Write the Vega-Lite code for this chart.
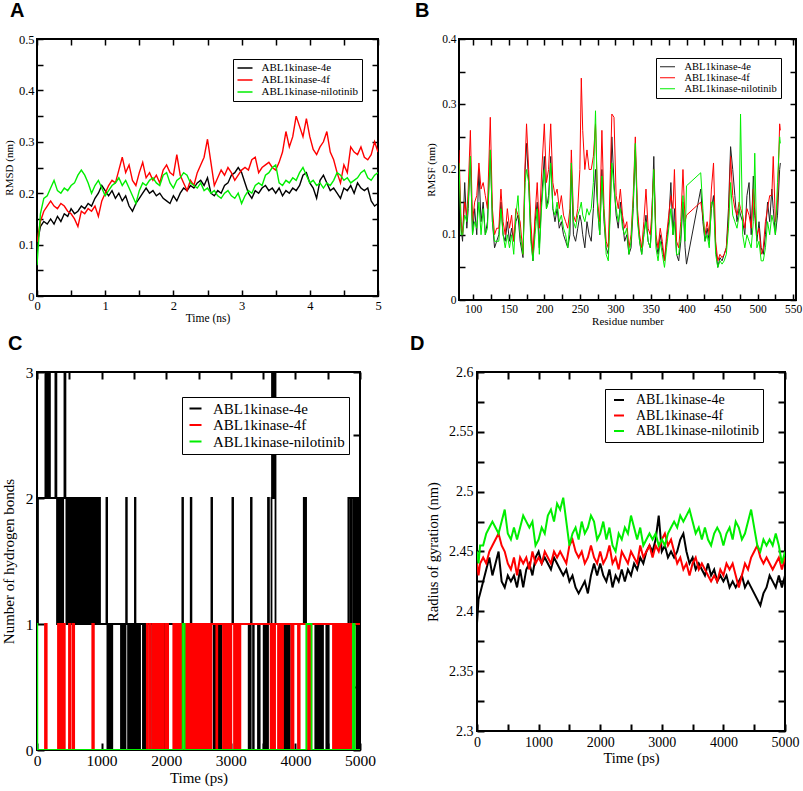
{
"$schema":"https://vega.github.io/schema/vega-lite/v6.json",
"background":"white",
"padding":{"left":0,"top":0,"right":0,"bottom":0},
"config":{
"view":{"stroke":"black","strokeWidth":2},
"axis":{"domain":false,"grid":false,"labelFont":"Liberation Serif","titleFont":"Liberation Serif","titleFontWeight":"normal","labelColor":"black","titleColor":"black","tickColor":"black","tickWidth":1.5,"labelOverlap":false,"labelFlush":false},
"legend":{"labelFont":"Liberation Serif","labelColor":"black","strokeColor":"black","fillColor":"white","orient":"none","symbolType":"stroke"},
"title":{"font":"Liberation Sans","fontWeight":"bold","color":"black","anchor":"start","frame":"group"}
},
"datasets":{
"A":[
{"t":0,"e":0.100,"f":0.105,"n":0.060},{"t":0.05,"e":0.135,"f":0.145,"n":0.160},{"t":0.1,"e":0.145,"f":0.165,"n":0.190},{"t":0.15,"e":0.140,"f":0.175,"n":0.195},{"t":0.2,"e":0.150,"f":0.185,"n":0.210},{"t":0.25,"e":0.140,"f":0.175,"n":0.225},{"t":0.3,"e":0.155,"f":0.170,"n":0.205},{"t":0.35,"e":0.145,"f":0.180,"n":0.200},{"t":0.4,"e":0.160,"f":0.175,"n":0.210},{"t":0.45,"e":0.155,"f":0.165,"n":0.205},
{"t":0.5,"e":0.170,"f":0.160,"n":0.215},{"t":0.55,"e":0.160,"f":0.150,"n":0.220},{"t":0.6,"e":0.165,"f":0.135,"n":0.235},{"t":0.65,"e":0.175,"f":0.165,"n":0.245},{"t":0.7,"e":0.170,"f":0.160,"n":0.235},{"t":0.75,"e":0.180,"f":0.170,"n":0.220},{"t":0.8,"e":0.175,"f":0.165,"n":0.200},{"t":0.85,"e":0.190,"f":0.175,"n":0.215},{"t":0.9,"e":0.200,"f":0.155,"n":0.225},{"t":0.95,"e":0.215,"f":0.185,"n":0.210},
{"t":1.0,"e":0.205,"f":0.200,"n":0.195},{"t":1.05,"e":0.195,"f":0.215,"n":0.205},{"t":1.1,"e":0.205,"f":0.225,"n":0.215},{"t":1.15,"e":0.190,"f":0.220,"n":0.220},{"t":1.2,"e":0.200,"f":0.245,"n":0.230},{"t":1.25,"e":0.185,"f":0.270,"n":0.215},{"t":1.3,"e":0.195,"f":0.240,"n":0.225},{"t":1.35,"e":0.175,"f":0.255,"n":0.210},{"t":1.4,"e":0.165,"f":0.225,"n":0.195},{"t":1.45,"e":0.180,"f":0.215,"n":0.180},
{"t":1.5,"e":0.190,"f":0.240,"n":0.205},{"t":1.55,"e":0.200,"f":0.260,"n":0.220},{"t":1.6,"e":0.210,"f":0.230,"n":0.215},{"t":1.65,"e":0.200,"f":0.240,"n":0.225},{"t":1.7,"e":0.205,"f":0.225,"n":0.230},{"t":1.75,"e":0.195,"f":0.235,"n":0.220},{"t":1.8,"e":0.200,"f":0.220,"n":0.215},{"t":1.85,"e":0.190,"f":0.245,"n":0.235},{"t":1.9,"e":0.185,"f":0.255,"n":0.240},{"t":1.95,"e":0.180,"f":0.240,"n":0.220},
{"t":2.0,"e":0.195,"f":0.235,"n":0.210},{"t":2.05,"e":0.185,"f":0.275,"n":0.225},{"t":2.1,"e":0.200,"f":0.235,"n":0.230},{"t":2.15,"e":0.210,"f":0.220,"n":0.240},{"t":2.2,"e":0.205,"f":0.205,"n":0.235},{"t":2.25,"e":0.215,"f":0.225,"n":0.220},{"t":2.3,"e":0.210,"f":0.215,"n":0.215},{"t":2.35,"e":0.220,"f":0.240,"n":0.210},{"t":2.4,"e":0.225,"f":0.255,"n":0.220},{"t":2.45,"e":0.215,"f":0.270,"n":0.205},
{"t":2.5,"e":0.230,"f":0.305,"n":0.210},{"t":2.55,"e":0.200,"f":0.260,"n":0.200},{"t":2.6,"e":0.195,"f":0.215,"n":0.205},{"t":2.65,"e":0.205,"f":0.230,"n":0.195},{"t":2.7,"e":0.200,"f":0.245,"n":0.190},{"t":2.75,"e":0.215,"f":0.235,"n":0.200},{"t":2.8,"e":0.220,"f":0.250,"n":0.205},{"t":2.85,"e":0.235,"f":0.240,"n":0.195},{"t":2.9,"e":0.240,"f":0.225,"n":0.190},{"t":2.95,"e":0.250,"f":0.235,"n":0.200},
{"t":3.0,"e":0.240,"f":0.245,"n":0.180},{"t":3.05,"e":0.220,"f":0.250,"n":0.195},{"t":3.1,"e":0.200,"f":0.245,"n":0.205},{"t":3.15,"e":0.190,"f":0.265,"n":0.200},{"t":3.2,"e":0.205,"f":0.270,"n":0.215},{"t":3.25,"e":0.200,"f":0.240,"n":0.220},{"t":3.3,"e":0.210,"f":0.250,"n":0.215},{"t":3.35,"e":0.215,"f":0.255,"n":0.235},{"t":3.4,"e":0.205,"f":0.260,"n":0.240},{"t":3.45,"e":0.210,"f":0.250,"n":0.250},
{"t":3.5,"e":0.200,"f":0.245,"n":0.255},{"t":3.55,"e":0.210,"f":0.260,"n":0.220},{"t":3.6,"e":0.195,"f":0.280,"n":0.215},{"t":3.65,"e":0.205,"f":0.320,"n":0.225},{"t":3.7,"e":0.200,"f":0.290,"n":0.220},{"t":3.75,"e":0.210,"f":0.310,"n":0.230},{"t":3.8,"e":0.205,"f":0.350,"n":0.225},{"t":3.85,"e":0.215,"f":0.330,"n":0.240},{"t":3.9,"e":0.235,"f":0.310,"n":0.250},{"t":3.95,"e":0.240,"f":0.345,"n":0.235},
{"t":4.0,"e":0.220,"f":0.310,"n":0.220},{"t":4.05,"e":0.210,"f":0.285,"n":0.225},{"t":4.1,"e":0.190,"f":0.275,"n":0.215},{"t":4.15,"e":0.225,"f":0.290,"n":0.220},{"t":4.2,"e":0.235,"f":0.300,"n":0.210},{"t":4.25,"e":0.220,"f":0.320,"n":0.220},{"t":4.3,"e":0.205,"f":0.280,"n":0.215},{"t":4.35,"e":0.210,"f":0.265,"n":0.225},{"t":4.4,"e":0.200,"f":0.240,"n":0.240},{"t":4.45,"e":0.190,"f":0.220,"n":0.235},
{"t":4.5,"e":0.210,"f":0.255,"n":0.225},{"t":4.55,"e":0.205,"f":0.240,"n":0.230},{"t":4.6,"e":0.215,"f":0.290,"n":0.220},{"t":4.65,"e":0.200,"f":0.280,"n":0.225},{"t":4.7,"e":0.220,"f":0.275,"n":0.230},{"t":4.75,"e":0.210,"f":0.290,"n":0.240},{"t":4.8,"e":0.205,"f":0.270,"n":0.245},{"t":4.85,"e":0.210,"f":0.265,"n":0.230},{"t":4.9,"e":0.185,"f":0.275,"n":0.225},{"t":4.95,"e":0.175,"f":0.300,"n":0.235},
{"t":5.0,"e":0.180,"f":0.280,"n":0.240}
],
"B":[
{"r":80,"e":0.19,"f":0.23,"n":0.21},{"r":83,"e":0.11,"f":0.12,"n":0.10},{"r":85,"e":0.09,"f":0.10,"n":0.10},{"r":88,"e":0.18,"f":0.15,"n":0.13},{"r":91,"e":0.11,"f":0.13,"n":0.12},{"r":93,"e":0.14,"f":0.17,"n":0.15},{"r":96,"e":0.22,"f":0.26,"n":0.22},{"r":99,"e":0.10,"f":0.12,"n":0.10},{"r":102,"e":0.14,"f":0.15,"n":0.12},{"r":105,"e":0.10,"f":0.16,"n":0.11},
{"r":108,"e":0.20,"f":0.21,"n":0.15},{"r":111,"e":0.12,"f":0.17,"n":0.10},{"r":114,"e":0.15,"f":0.18,"n":0.14},{"r":117,"e":0.10,"f":0.16,"n":0.10},{"r":120,"e":0.12,"f":0.14,"n":0.11},{"r":124,"e":0.23,"f":0.28,"n":0.23},{"r":127,"e":0.12,"f":0.14,"n":0.12},{"r":130,"e":0.08,"f":0.10,"n":0.09},{"r":133,"e":0.09,"f":0.11,"n":0.09},{"r":136,"e":0.10,"f":0.11,"n":0.09},
{"r":139,"e":0.15,"f":0.17,"n":0.14},{"r":142,"e":0.10,"f":0.12,"n":0.10},{"r":145,"e":0.09,"f":0.10,"n":0.08},{"r":148,"e":0.12,"f":0.14,"n":0.10},{"r":151,"e":0.09,"f":0.11,"n":0.08},{"r":154,"e":0.11,"f":0.13,"n":0.10},{"r":157,"e":0.09,"f":0.09,"n":0.07},{"r":160,"e":0.12,"f":0.14,"n":0.13},{"r":163,"e":0.13,"f":0.13,"n":0.16},{"r":166,"e":0.09,"f":0.12,"n":0.10},
{"r":170,"e":0.065,"f":0.07,"n":0.07},{"r":173,"e":0.20,"f":0.21,"n":0.18},{"r":175,"e":0.24,"f":0.27,"n":0.20},{"r":178,"e":0.18,"f":0.20,"n":0.18},{"r":181,"e":0.10,"f":0.12,"n":0.09},{"r":184,"e":0.06,"f":0.07,"n":0.06},{"r":187,"e":0.12,"f":0.13,"n":0.10},{"r":190,"e":0.15,"f":0.18,"n":0.14},{"r":193,"e":0.08,"f":0.11,"n":0.07},{"r":196,"e":0.15,"f":0.19,"n":0.14},
{"r":200,"e":0.22,"f":0.27,"n":0.20},{"r":203,"e":0.14,"f":0.18,"n":0.14},{"r":206,"e":0.16,"f":0.20,"n":0.15},{"r":209,"e":0.22,"f":0.27,"n":0.21},{"r":212,"e":0.14,"f":0.18,"n":0.14},{"r":215,"e":0.12,"f":0.16,"n":0.13},{"r":218,"e":0.14,"f":0.17,"n":0.15},{"r":221,"e":0.11,"f":0.14,"n":0.12},{"r":224,"e":0.12,"f":0.16,"n":0.13},{"r":227,"e":0.10,"f":0.13,"n":0.11},
{"r":230,"e":0.09,"f":0.12,"n":0.10},{"r":233,"e":0.08,"f":0.11,"n":0.08},{"r":236,"e":0.10,"f":0.14,"n":0.12},{"r":238,"e":0.20,"f":0.23,"n":0.21},{"r":241,"e":0.10,"f":0.13,"n":0.12},{"r":244,"e":0.09,"f":0.12,"n":0.11},{"r":247,"e":0.11,"f":0.14,"n":0.13},{"r":250,"e":0.13,"f":0.20,"n":0.14},{"r":252,"e":0.12,"f":0.34,"n":0.15},{"r":254,"e":0.10,"f":0.26,"n":0.13},
{"r":257,"e":0.08,"f":0.20,"n":0.12},{"r":260,"e":0.12,"f":0.23,"n":0.14},{"r":263,"e":0.10,"f":0.20,"n":0.13},{"r":266,"e":0.09,"f":0.20,"n":0.14},{"r":269,"e":0.14,"f":0.22,"n":0.18},{"r":272,"e":0.20,"f":0.27,"n":0.29},{"r":275,"e":0.14,"f":0.15,"n":0.14},{"r":278,"e":0.10,"f":0.12,"n":0.10},{"r":281,"e":0.20,"f":0.26,"n":0.19},{"r":284,"e":0.12,"f":0.14,"n":0.13},
{"r":287,"e":0.08,"f":0.09,"n":0.07},{"r":290,"e":0.07,"f":0.08,"n":0.06},{"r":293,"e":0.15,"f":0.20,"n":0.14},{"r":295,"e":0.25,"f":0.285,"n":0.21},{"r":298,"e":0.18,"f":0.28,"n":0.17},{"r":301,"e":0.13,"f":0.16,"n":0.14},{"r":304,"e":0.11,"f":0.14,"n":0.12},{"r":307,"e":0.15,"f":0.17,"n":0.14},{"r":310,"e":0.12,"f":0.13,"n":0.11},{"r":313,"e":0.09,"f":0.11,"n":0.10},
{"r":316,"e":0.10,"f":0.12,"n":0.11},{"r":319,"e":0.07,"f":0.08,"n":0.07},{"r":322,"e":0.08,"f":0.10,"n":0.09},{"r":325,"e":0.14,"f":0.16,"n":0.15},{"r":328,"e":0.23,"f":0.25,"n":0.24},{"r":331,"e":0.13,"f":0.14,"n":0.12},{"r":334,"e":0.09,"f":0.10,"n":0.09},{"r":337,"e":0.07,"f":0.08,"n":0.07},{"r":340,"e":0.10,"f":0.12,"n":0.10},{"r":343,"e":0.13,"f":0.17,"n":0.12},
{"r":346,"e":0.09,"f":0.11,"n":0.09},{"r":349,"e":0.08,"f":0.10,"n":0.08},{"r":351,"e":0.12,"f":0.13,"n":0.11},{"r":354,"e":0.22,"f":0.20,"n":0.20},{"r":357,"e":0.09,"f":0.10,"n":0.08},{"r":360,"e":0.07,"f":0.08,"n":0.06},{"r":363,"e":0.10,"f":0.11,"n":0.09},{"r":366,"e":0.08,"f":0.09,"n":0.07},{"r":369,"e":0.06,"f":0.06,"n":0.05},{"r":372,"e":0.09,"f":0.10,"n":0.08},
{"r":375,"e":0.12,"f":0.13,"n":0.11},{"r":378,"e":0.18,"f":0.16,"n":0.14},{"r":381,"e":0.10,"f":0.14,"n":0.10},{"r":383,"e":0.14,"f":0.20,"n":0.12},{"r":386,"e":0.07,"f":0.09,"n":0.07},{"r":389,"e":0.06,"f":0.08,"n":0.07},{"r":392,"e":0.09,"f":0.12,"n":0.10},{"r":395,"e":0.15,"f":0.20,"n":0.16},{"r":398,"e":0.08,"f":0.12,"n":0.09},{"r":400,"e":0.055,"f":0.13,"n":0.175},
{"r":420,"e":0.17,"f":0.15,"n":0.195},{"r":423,"e":0.12,"f":0.13,"n":0.14},{"r":426,"e":0.09,"f":0.10,"n":0.09},{"r":429,"e":0.11,"f":0.12,"n":0.10},{"r":432,"e":0.09,"f":0.10,"n":0.08},{"r":435,"e":0.14,"f":0.17,"n":0.15},{"r":438,"e":0.16,"f":0.21,"n":0.15},{"r":441,"e":0.08,"f":0.09,"n":0.07},{"r":444,"e":0.05,"f":0.06,"n":0.05},{"r":447,"e":0.065,"f":0.07,"n":0.06},
{"r":450,"e":0.06,"f":0.065,"n":0.055},{"r":453,"e":0.07,"f":0.07,"n":0.06},{"r":456,"e":0.08,"f":0.08,"n":0.07},{"r":459,"e":0.14,"f":0.12,"n":0.11},{"r":462,"e":0.235,"f":0.22,"n":0.18},{"r":465,"e":0.20,"f":0.16,"n":0.13},{"r":468,"e":0.16,"f":0.14,"n":0.12},{"r":471,"e":0.12,"f":0.13,"n":0.11},{"r":474,"e":0.14,"f":0.15,"n":0.13},{"r":476,"e":0.13,"f":0.14,"n":0.285},
{"r":479,"e":0.12,"f":0.13,"n":0.10},{"r":482,"e":0.10,"f":0.11,"n":0.08},{"r":485,"e":0.16,"f":0.14,"n":0.10},{"r":488,"e":0.18,"f":0.13,"n":0.09},{"r":491,"e":0.10,"f":0.11,"n":0.08},{"r":494,"e":0.19,"f":0.17,"n":0.12},{"r":496,"e":0.13,"f":0.14,"n":0.225},{"r":499,"e":0.09,"f":0.10,"n":0.08},{"r":502,"e":0.12,"f":0.11,"n":0.09},{"r":505,"e":0.08,"f":0.07,"n":0.06},
{"r":508,"e":0.07,"f":0.08,"n":0.06},{"r":511,"e":0.10,"f":0.12,"n":0.08},{"r":514,"e":0.15,"f":0.14,"n":0.12},{"r":517,"e":0.12,"f":0.16,"n":0.10},{"r":520,"e":0.17,"f":0.16,"n":0.13},{"r":522,"e":0.14,"f":0.22,"n":0.12},{"r":525,"e":0.10,"f":0.12,"n":0.10},{"r":528,"e":0.13,"f":0.15,"n":0.18},{"r":531,"e":0.20,"f":0.27,"n":0.25},{"r":532,"e":0.21,"f":0.26,"n":0.24}
],
"C":[
{"s":"e","t":0,"v":1},{"s":"e","t":15,"v":2},{"s":"e","t":130,"v":3},{"s":"e","t":145,"v":2},{"s":"e","t":150,"v":3},{"s":"e","t":165,"v":2},{"s":"e","t":190,"v":3},{"s":"e","t":200,"v":2},{"s":"e","t":285,"v":3},{"s":"e","t":300,"v":2},{"s":"e","t":310,"v":1},{"s":"e","t":320,"v":2},{"s":"e","t":335,"v":1},{"s":"e","t":345,"v":2},{"s":"e","t":360,"v":1},{"s":"e","t":375,"v":2},{"s":"e","t":395,"v":1},{"s":"e","t":405,"v":2},{"s":"e","t":425,"v":3},{"s":"e","t":440,"v":2},{"s":"e","t":455,"v":1},{"s":"e","t":470,"v":2},{"s":"e","t":485,"v":1},{"s":"e","t":500,"v":2},{"s":"e","t":515,"v":1},{"s":"e","t":530,"v":2},{"s":"e","t":545,"v":1},{"s":"e","t":560,"v":2},{"s":"e","t":575,"v":1},{"s":"e","t":590,"v":2},{"s":"e","t":605,"v":1},{"s":"e","t":615,"v":2},{"s":"e","t":630,"v":1},{"s":"e","t":640,"v":2},{"s":"e","t":655,"v":1},{"s":"e","t":665,"v":2},{"s":"e","t":685,"v":1},{"s":"e","t":700,"v":2},{"s":"e","t":715,"v":1},{"s":"e","t":725,"v":2},{"s":"e","t":740,"v":1},{"s":"e","t":755,"v":2},{"s":"e","t":765,"v":1},{"s":"e","t":780,"v":2},{"s":"e","t":790,"v":1},{"s":"e","t":805,"v":2},{"s":"e","t":820,"v":1},{"s":"e","t":840,"v":2},{"s":"e","t":850,"v":1},{"s":"e","t":865,"v":2},{"s":"e","t":880,"v":1},{"s":"e","t":900,"v":2},{"s":"e","t":915,"v":1},{"s":"e","t":925,"v":2},{"s":"e","t":940,"v":1},{"s":"e","t":960,"v":2},{"s":"e","t":975,"v":1},{"s":"e","t":1075,"v":2},{"s":"e","t":1085,"v":1},{"s":"e","t":1090,"v":0},{"s":"e","t":1100,"v":1},{"s":"e","t":1115,"v":0},{"s":"e","t":1125,"v":1},{"s":"e","t":1140,"v":0},{"s":"e","t":1150,"v":1},{"s":"e","t":1158,"v":0},{"s":"e","t":1165,"v":1},{"s":"e","t":1300,"v":0},{"s":"e","t":1310,"v":1},{"s":"e","t":1325,"v":0},{"s":"e","t":1335,"v":1},{"s":"e","t":1350,"v":0},{"s":"e","t":1360,"v":1},{"s":"e","t":1365,"v":0},{"s":"e","t":1370,"v":1},{"s":"e","t":1380,"v":2},{"s":"e","t":1390,"v":1},{"s":"e","t":1410,"v":0},{"s":"e","t":1420,"v":1},{"s":"e","t":1428,"v":0},{"s":"e","t":1436,"v":1},{"s":"e","t":1444,"v":0},{"s":"e","t":1452,"v":1},{"s":"e","t":1460,"v":0},{"s":"e","t":1468,"v":1},{"s":"e","t":1476,"v":0},{"s":"e","t":1484,"v":1},{"s":"e","t":1492,"v":0},{"s":"e","t":1500,"v":1},{"s":"e","t":1508,"v":0},{"s":"e","t":1516,"v":2},{"s":"e","t":1524,"v":0},{"s":"e","t":1532,"v":1},{"s":"e","t":1540,"v":0},{"s":"e","t":1548,"v":1},{"s":"e","t":1556,"v":0},{"s":"e","t":1564,"v":1},{"s":"e","t":1572,"v":0},{"s":"e","t":1580,"v":1},{"s":"e","t":1588,"v":0},{"s":"e","t":1595,"v":1},{"s":"e","t":1640,"v":0},{"s":"e","t":1650,"v":1},{"s":"e","t":1670,"v":0},{"s":"e","t":1680,"v":1},{"s":"e","t":1700,"v":0},{"s":"e","t":1710,"v":1},{"s":"e","t":1750,"v":0},{"s":"e","t":1760,"v":1},{"s":"e","t":1840,"v":0},{"s":"e","t":1850,"v":1},{"s":"e","t":1885,"v":0},{"s":"e","t":1895,"v":1},{"s":"e","t":1960,"v":0},{"s":"e","t":1970,"v":1},{"s":"e","t":2005,"v":0},{"s":"e","t":2015,"v":1},{"s":"e","t":2197,"v":0},{"s":"e","t":2207,"v":1},{"s":"e","t":2225,"v":0},{"s":"e","t":2235,"v":1},{"s":"e","t":2250,"v":2},{"s":"e","t":2260,"v":1},{"s":"e","t":2380,"v":2},{"s":"e","t":2390,"v":1},{"s":"e","t":2700,"v":2},{"s":"e","t":2710,"v":1},{"s":"e","t":2735,"v":0},{"s":"e","t":2745,"v":1},{"s":"e","t":2752,"v":0},{"s":"e","t":2761,"v":1},{"s":"e","t":2812,"v":0},{"s":"e","t":2822,"v":1},{"s":"e","t":2832,"v":0},{"s":"e","t":2842,"v":1},{"s":"e","t":2848,"v":0},{"s":"e","t":2853,"v":1},{"s":"e","t":3025,"v":2},{"s":"e","t":3035,"v":1},{"s":"e","t":3277,"v":0},{"s":"e","t":3287,"v":1},{"s":"e","t":3298,"v":0},{"s":"e","t":3308,"v":1},{"s":"e","t":3312,"v":2},{"s":"e","t":3322,"v":1},{"s":"e","t":3345,"v":0},{"s":"e","t":3355,"v":1},{"s":"e","t":3421,"v":0},{"s":"e","t":3431,"v":1},{"s":"e","t":3440,"v":0},{"s":"e","t":3447,"v":1},{"s":"e","t":3509,"v":0},{"s":"e","t":3517,"v":1},{"s":"e","t":3525,"v":0},{"s":"e","t":3533,"v":1},{"s":"e","t":3541,"v":0},{"s":"e","t":3549,"v":1},{"s":"e","t":3557,"v":0},{"s":"e","t":3565,"v":1},{"s":"e","t":3572,"v":0},{"s":"e","t":3576,"v":2},{"s":"e","t":3590,"v":1},{"s":"e","t":3630,"v":2},{"s":"e","t":3638,"v":3},{"s":"e","t":3645,"v":2},{"s":"e","t":3652,"v":3},{"s":"e","t":3660,"v":2},{"s":"e","t":3668,"v":3},{"s":"e","t":3676,"v":2},{"s":"e","t":3684,"v":3},{"s":"e","t":3692,"v":1},{"s":"e","t":3824,"v":0},{"s":"e","t":3834,"v":1},{"s":"e","t":3844,"v":0},{"s":"e","t":3852,"v":1},{"s":"e","t":3860,"v":0},{"s":"e","t":3870,"v":1},{"s":"e","t":3880,"v":0},{"s":"e","t":3890,"v":1},{"s":"e","t":3900,"v":0},{"s":"e","t":3912,"v":1},{"s":"e","t":4130,"v":2},{"s":"e","t":4140,"v":1},{"s":"e","t":4150,"v":2},{"s":"e","t":4165,"v":1},{"s":"e","t":4308,"v":0},{"s":"e","t":4318,"v":1},{"s":"e","t":4330,"v":0},{"s":"e","t":4340,"v":1},{"s":"e","t":4350,"v":0},{"s":"e","t":4355,"v":1},{"s":"e","t":4376,"v":0},{"s":"e","t":4386,"v":1},{"s":"e","t":4396,"v":0},{"s":"e","t":4406,"v":1},{"s":"e","t":4416,"v":0},{"s":"e","t":4427,"v":1},{"s":"e","t":4479,"v":0},{"s":"e","t":4489,"v":1},{"s":"e","t":4500,"v":0},{"s":"e","t":4515,"v":1},{"s":"e","t":4737,"v":0},{"s":"e","t":4747,"v":1},{"s":"e","t":4757,"v":0},{"s":"e","t":4767,"v":1},{"s":"e","t":4777,"v":0},{"s":"e","t":4788,"v":1},{"s":"e","t":4820,"v":2},{"s":"e","t":4850,"v":1},{"s":"e","t":4870,"v":2},{"s":"e","t":4900,"v":1},{"s":"e","t":4920,"v":2},{"s":"e","t":4945,"v":0},{"s":"e","t":4955,"v":2},{"s":"e","t":4970,"v":0},{"s":"e","t":4980,"v":2},{"s":"e","t":4990,"v":0},{"s":"e","t":5000,"v":2},
{"s":"f","t":0,"v":0},{"s":"f","t":124,"v":1},{"s":"f","t":132,"v":0},{"s":"f","t":140,"v":1},{"s":"f","t":150,"v":0},{"s":"f","t":325,"v":1},{"s":"f","t":335,"v":0},{"s":"f","t":345,"v":1},{"s":"f","t":355,"v":0},{"s":"f","t":365,"v":1},{"s":"f","t":375,"v":0},{"s":"f","t":385,"v":1},{"s":"f","t":395,"v":0},{"s":"f","t":405,"v":1},{"s":"f","t":415,"v":0},{"s":"f","t":422,"v":1},{"s":"f","t":430,"v":0},{"s":"f","t":495,"v":1},{"s":"f","t":512,"v":0},{"s":"f","t":547,"v":1},{"s":"f","t":557,"v":0},{"s":"f","t":565,"v":1},{"s":"f","t":575,"v":0},{"s":"f","t":856,"v":1},{"s":"f","t":880,"v":0},{"s":"f","t":1700,"v":1},{"s":"f","t":1710,"v":0},{"s":"f","t":1740,"v":1},{"s":"f","t":1755,"v":0},{"s":"f","t":1786,"v":1},{"s":"f","t":1796,"v":0},{"s":"f","t":1806,"v":1},{"s":"f","t":1822,"v":0},{"s":"f","t":1845,"v":1},{"s":"f","t":1855,"v":0},{"s":"f","t":1880,"v":1},{"s":"f","t":1900,"v":0},{"s":"f","t":1925,"v":1},{"s":"f","t":1935,"v":0},{"s":"f","t":1945,"v":1},{"s":"f","t":1955,"v":0},{"s":"f","t":1985,"v":1},{"s":"f","t":1995,"v":0},{"s":"f","t":2015,"v":1},{"s":"f","t":2030,"v":0},{"s":"f","t":2110,"v":1},{"s":"f","t":2120,"v":0},{"s":"f","t":2130,"v":1},{"s":"f","t":2140,"v":0},{"s":"f","t":2150,"v":1},{"s":"f","t":2160,"v":0},{"s":"f","t":2170,"v":1},{"s":"f","t":2183,"v":0},{"s":"f","t":2205,"v":1},{"s":"f","t":2215,"v":0},{"s":"f","t":2235,"v":1},{"s":"f","t":2245,"v":0},{"s":"f","t":2285,"v":1},{"s":"f","t":2295,"v":0},{"s":"f","t":2305,"v":1},{"s":"f","t":2315,"v":0},{"s":"f","t":2325,"v":1},{"s":"f","t":2335,"v":0},{"s":"f","t":2345,"v":1},{"s":"f","t":2355,"v":0},{"s":"f","t":2365,"v":1},{"s":"f","t":2375,"v":0},{"s":"f","t":2385,"v":1},{"s":"f","t":2395,"v":0},{"s":"f","t":2405,"v":1},{"s":"f","t":2415,"v":0},{"s":"f","t":2430,"v":1},{"s":"f","t":2440,"v":0},{"s":"f","t":2456,"v":1},{"s":"f","t":2466,"v":0},{"s":"f","t":2476,"v":1},{"s":"f","t":2486,"v":0},{"s":"f","t":2496,"v":1},{"s":"f","t":2506,"v":0},{"s":"f","t":2516,"v":1},{"s":"f","t":2526,"v":0},{"s":"f","t":2536,"v":1},{"s":"f","t":2546,"v":0},{"s":"f","t":2554,"v":1},{"s":"f","t":2570,"v":0},{"s":"f","t":2580,"v":1},{"s":"f","t":2590,"v":0},{"s":"f","t":2600,"v":1},{"s":"f","t":2610,"v":0},{"s":"f","t":2620,"v":1},{"s":"f","t":2630,"v":0},{"s":"f","t":2640,"v":1},{"s":"f","t":2650,"v":0},{"s":"f","t":2660,"v":1},{"s":"f","t":2673,"v":0},{"s":"f","t":2680,"v":1},{"s":"f","t":2690,"v":0},{"s":"f","t":2700,"v":1},{"s":"f","t":2776,"v":0},{"s":"f","t":2790,"v":1},{"s":"f","t":2879,"v":0},{"s":"f","t":2890,"v":1},{"s":"f","t":2900,"v":0},{"s":"f","t":2910,"v":1},{"s":"f","t":2920,"v":0},{"s":"f","t":2930,"v":1},{"s":"f","t":2940,"v":0},{"s":"f","t":2950,"v":1},{"s":"f","t":2960,"v":0},{"s":"f","t":2970,"v":1},{"s":"f","t":2980,"v":0},{"s":"f","t":2990,"v":1},{"s":"f","t":3000,"v":0},{"s":"f","t":3008,"v":1},{"s":"f","t":3050,"v":0},{"s":"f","t":3065,"v":1},{"s":"f","t":3075,"v":0},{"s":"f","t":3086,"v":1},{"s":"f","t":3112,"v":0},{"s":"f","t":3125,"v":1},{"s":"f","t":3135,"v":0},{"s":"f","t":3148,"v":1},{"s":"f","t":3617,"v":0},{"s":"f","t":3630,"v":1},{"s":"f","t":3640,"v":0},{"s":"f","t":3653,"v":1},{"s":"f","t":3679,"v":0},{"s":"f","t":3685,"v":1},{"s":"f","t":3731,"v":0},{"s":"f","t":3740,"v":1},{"s":"f","t":3750,"v":0},{"s":"f","t":3760,"v":1},{"s":"f","t":3770,"v":0},{"s":"f","t":3780,"v":1},{"s":"f","t":3790,"v":0},{"s":"f","t":3808,"v":1},{"s":"f","t":3937,"v":0},{"s":"f","t":3950,"v":1},{"s":"f","t":3963,"v":0},{"s":"f","t":3970,"v":1},{"s":"f","t":4040,"v":0},{"s":"f","t":4050,"v":1},{"s":"f","t":4060,"v":0},{"s":"f","t":4066,"v":1},{"s":"f","t":4195,"v":0},{"s":"f","t":4205,"v":1},{"s":"f","t":4215,"v":0},{"s":"f","t":4225,"v":1},{"s":"f","t":4235,"v":0},{"s":"f","t":4246,"v":1},{"s":"f","t":4582,"v":0},{"s":"f","t":4592,"v":1},{"s":"f","t":4602,"v":0},{"s":"f","t":4612,"v":1},{"s":"f","t":4622,"v":0},{"s":"f","t":4632,"v":1},{"s":"f","t":4642,"v":0},{"s":"f","t":4652,"v":1},{"s":"f","t":4662,"v":0},{"s":"f","t":4672,"v":1},{"s":"f","t":4682,"v":0},{"s":"f","t":4692,"v":1},{"s":"f","t":4702,"v":0},{"s":"f","t":4711,"v":1},{"s":"f","t":4737,"v":0},{"s":"f","t":4747,"v":1},{"s":"f","t":4757,"v":0},{"s":"f","t":4767,"v":1},{"s":"f","t":4777,"v":0},{"s":"f","t":4788,"v":1},{"s":"f","t":4798,"v":0},{"s":"f","t":4808,"v":1},{"s":"f","t":4818,"v":0},{"s":"f","t":4828,"v":1},{"s":"f","t":4838,"v":0},{"s":"f","t":4848,"v":1},{"s":"f","t":4858,"v":0},{"s":"f","t":4866,"v":1},{"s":"f","t":5000,"v":1},
{"s":"n","t":0,"v":1},{"s":"n","t":5,"v":0},{"s":"n","t":2255,"v":1},{"s":"n","t":2285,"v":0},{"s":"n","t":4169,"v":1},{"s":"n","t":4250,"v":0},{"s":"n","t":4891,"v":1},{"s":"n","t":4917,"v":0},{"s":"n","t":5000,"v":0}
],
"D":[
{"t":0,"e":2.39,"f":2.44,"n":2.45},{"t":25,"e":2.41,"f":2.43,"n":2.44},{"t":50,"e":2.415,"f":2.44,"n":2.455},{"t":100,"e":2.425,"f":2.445,"n":2.455},{"t":150,"e":2.435,"f":2.44,"n":2.465},{"t":200,"e":2.445,"f":2.45,"n":2.47},{"t":250,"e":2.43,"f":2.455,"n":2.475},{"t":300,"e":2.44,"f":2.46,"n":2.47},{"t":350,"e":2.45,"f":2.465,"n":2.465},{"t":400,"e":2.425,"f":2.455,"n":2.475},
{"t":450,"e":2.42,"f":2.45,"n":2.485},{"t":500,"e":2.43,"f":2.44,"n":2.465},{"t":550,"e":2.425,"f":2.435,"n":2.46},{"t":600,"e":2.43,"f":2.445,"n":2.47},{"t":650,"e":2.42,"f":2.43,"n":2.46},{"t":700,"e":2.435,"f":2.445,"n":2.47},{"t":750,"e":2.42,"f":2.44,"n":2.48},{"t":800,"e":2.435,"f":2.445,"n":2.475},{"t":850,"e":2.44,"f":2.435,"n":2.47},{"t":900,"e":2.43,"f":2.45,"n":2.475},
{"t":950,"e":2.445,"f":2.44,"n":2.455},{"t":1000,"e":2.45,"f":2.445,"n":2.46},{"t":1050,"e":2.44,"f":2.44,"n":2.47},{"t":1100,"e":2.445,"f":2.45,"n":2.465},{"t":1150,"e":2.44,"f":2.445,"n":2.48},{"t":1200,"e":2.435,"f":2.44,"n":2.485},{"t":1250,"e":2.445,"f":2.45,"n":2.475},{"t":1300,"e":2.44,"f":2.445,"n":2.49},{"t":1350,"e":2.435,"f":2.45,"n":2.485},{"t":1400,"e":2.43,"f":2.445,"n":2.495},
{"t":1450,"e":2.435,"f":2.44,"n":2.475},{"t":1500,"e":2.425,"f":2.455,"n":2.455},{"t":1550,"e":2.43,"f":2.46,"n":2.465},{"t":1600,"e":2.42,"f":2.45,"n":2.47},{"t":1650,"e":2.415,"f":2.445,"n":2.46},{"t":1700,"e":2.42,"f":2.45,"n":2.475},{"t":1750,"e":2.425,"f":2.44,"n":2.465},{"t":1800,"e":2.415,"f":2.445,"n":2.47},{"t":1850,"e":2.43,"f":2.455,"n":2.48},{"t":1900,"e":2.44,"f":2.445,"n":2.475},
{"t":1950,"e":2.43,"f":2.44,"n":2.46},{"t":2000,"e":2.44,"f":2.45,"n":2.465},{"t":2050,"e":2.43,"f":2.44,"n":2.475},{"t":2100,"e":2.425,"f":2.445,"n":2.46},{"t":2150,"e":2.435,"f":2.455,"n":2.47},{"t":2200,"e":2.42,"f":2.44,"n":2.455},{"t":2250,"e":2.43,"f":2.445,"n":2.45},{"t":2300,"e":2.425,"f":2.435,"n":2.465},{"t":2350,"e":2.435,"f":2.45,"n":2.46},{"t":2400,"e":2.425,"f":2.445,"n":2.47},
{"t":2450,"e":2.435,"f":2.44,"n":2.465},{"t":2500,"e":2.43,"f":2.45,"n":2.48},{"t":2550,"e":2.44,"f":2.445,"n":2.47},{"t":2600,"e":2.435,"f":2.44,"n":2.46},{"t":2650,"e":2.445,"f":2.455,"n":2.47},{"t":2700,"e":2.44,"f":2.445,"n":2.455},{"t":2750,"e":2.45,"f":2.45,"n":2.46},{"t":2800,"e":2.455,"f":2.455,"n":2.465},{"t":2850,"e":2.45,"f":2.445,"n":2.46},{"t":2900,"e":2.46,"f":2.455,"n":2.465},
{"t":2950,"e":2.48,"f":2.45,"n":2.455},{"t":3000,"e":2.45,"f":2.46,"n":2.46},{"t":3050,"e":2.455,"f":2.465,"n":2.455},{"t":3100,"e":2.445,"f":2.455,"n":2.465},{"t":3150,"e":2.45,"f":2.46,"n":2.47},{"t":3200,"e":2.445,"f":2.45,"n":2.475},{"t":3250,"e":2.45,"f":2.44,"n":2.47},{"t":3300,"e":2.46,"f":2.445,"n":2.48},{"t":3350,"e":2.465,"f":2.435,"n":2.475},{"t":3400,"e":2.45,"f":2.44,"n":2.48},
{"t":3450,"e":2.44,"f":2.43,"n":2.485},{"t":3500,"e":2.445,"f":2.44,"n":2.475},{"t":3550,"e":2.435,"f":2.445,"n":2.465},{"t":3600,"e":2.44,"f":2.435,"n":2.47},{"t":3650,"e":2.435,"f":2.44,"n":2.46},{"t":3700,"e":2.43,"f":2.435,"n":2.47},{"t":3750,"e":2.44,"f":2.43,"n":2.46},{"t":3800,"e":2.43,"f":2.425,"n":2.455},{"t":3850,"e":2.435,"f":2.43,"n":2.465},{"t":3900,"e":2.425,"f":2.425,"n":2.47},
{"t":3950,"e":2.43,"f":2.435,"n":2.465},{"t":4000,"e":2.425,"f":2.43,"n":2.455},{"t":4050,"e":2.43,"f":2.44,"n":2.465},{"t":4100,"e":2.42,"f":2.435,"n":2.47},{"t":4150,"e":2.425,"f":2.44,"n":2.46},{"t":4200,"e":2.42,"f":2.43,"n":2.475},{"t":4250,"e":2.425,"f":2.42,"n":2.47},{"t":4300,"e":2.43,"f":2.43,"n":2.46},{"t":4350,"e":2.42,"f":2.44,"n":2.465},{"t":4400,"e":2.425,"f":2.435,"n":2.475},
{"t":4450,"e":2.42,"f":2.445,"n":2.485},{"t":4500,"e":2.415,"f":2.45,"n":2.47},{"t":4550,"e":2.41,"f":2.455,"n":2.455},{"t":4600,"e":2.405,"f":2.445,"n":2.45},{"t":4650,"e":2.415,"f":2.44,"n":2.46},{"t":4700,"e":2.42,"f":2.445,"n":2.455},{"t":4750,"e":2.43,"f":2.44,"n":2.46},{"t":4800,"e":2.425,"f":2.435,"n":2.455},{"t":4850,"e":2.42,"f":2.44,"n":2.465},{"t":4900,"e":2.43,"f":2.445,"n":2.455},
{"t":4950,"e":2.42,"f":2.435,"n":2.44},{"t":5000,"e":2.43,"f":2.445,"n":2.45}
]
},
"columns":1,
"align":"none",
"spacing":5,
"resolve":{"scale":{"color":"independent"},"legend":{"color":"independent"}},
"concat":[
{"hconcat":[
{"width":341,"height":257,
"data":{"name":"A"},
"transform":[{"fold":["e","f","n"],"as":["s","v"]}],
"title":{"text":"A","fontSize":20,"dx":-27,"offset":12},
"layer":[
{"mark":{"type":"line","strokeWidth":1.4,"clip":true},
"encoding":{
"x":{"field":"t","type":"quantitative","scale":{"domain":[0,5],"nice":false,"zero":false},
"axis":{"orient":"bottom","offset":-6,"tickSize":6,"title":"Time (ns)","values":[0,0.5,1,1.5,2,2.5,3,3.5,4,4.5,5],"format":"~g","labelExpr":"datum.value % 1 === 0 ? datum.label : ''","labelPadding":3,"labelFontSize":12.5,"titleFontSize":11.5,"titlePadding":1}},
"y":{"field":"v","type":"quantitative","scale":{"domain":[0,0.5],"nice":false,"zero":false},
"axis":{"orient":"left","offset":-6,"tickSize":6,"title":"RMSD (nm)","values":[0,0.05,0.1,0.15,0.2,0.25,0.3,0.35,0.4,0.45,0.5],"format":"~g","labelExpr":"abs(datum.value*10-round(datum.value*10))<1e-6 ? datum.label : ''","labelPadding":3,"labelFontSize":12.5,"titleFontSize":11,"titlePadding":4}},
"color":{"field":"s","type":"nominal","scale":{"domain":["e","f","n"],"range":["#000000","#ff0000","#00ee00"]},
"legend":{"title":null,"orient":"none","legendX":196,"legendY":20,"labelExpr":"datum.label == 'e' ? 'ABL1kinase-4e' : datum.label == 'f' ? 'ABL1kinase-4f' : 'ABL1kinase-nilotinib'","labelFontSize":11,"symbolSize":225,"symbolStrokeWidth":1.5,"labelOffset":8,"padding":3.5,"rowPadding":0,"clipHeight":11,"strokeColor":"black","fillColor":"white"}}
}},
{"mark":{"type":"point","opacity":0},
"encoding":{
"x":{"field":"t","type":"quantitative","axis":{"orient":"top","offset":-6,"tickSize":6,"title":null,"labels":false,"values":[0,0.5,1,1.5,2,2.5,3,3.5,4,4.5,5]}},
"y":{"field":"v","type":"quantitative","axis":{"orient":"right","offset":-6,"tickSize":6,"title":null,"labels":false,"values":[0,0.05,0.1,0.15,0.2,0.25,0.3,0.35,0.4,0.45,0.5]}}
}}
],
"resolve":{"axis":{"x":"independent","y":"independent"}}
},
{"width":337,"height":261,
"data":{"name":"B"},
"transform":[{"fold":["e","f","n"],"as":["s","v"]}],
"title":{"text":"B","fontSize":20,"dx":-44,"offset":12},
"layer":[
{"mark":{"type":"line","strokeWidth":1,"clip":true},
"encoding":{
"x":{"field":"r","type":"quantitative","scale":{"domain":[80,554],"nice":false,"zero":false},
"axis":{"orient":"bottom","offset":-6,"tickSize":6,"title":"Residue number","values":[100,125,150,175,200,225,250,275,300,325,350,375,400,425,450,475,500,525,550],"format":"d","labelExpr":"datum.value % 50 === 0 ? datum.label : ''","labelPadding":3,"labelFontSize":11.5,"titleFontSize":11,"titlePadding":1}},
"y":{"field":"v","type":"quantitative","scale":{"domain":[0,0.4],"nice":false,"zero":false},
"axis":{"orient":"left","offset":-6,"tickSize":6,"title":"RMSF (nm)","values":[0,0.05,0.1,0.15,0.2,0.25,0.3,0.35,0.4],"format":"~g","labelExpr":"abs(datum.value*10-round(datum.value*10))<1e-6 ? datum.label : ''","labelPadding":3,"labelFontSize":11.5,"titleFontSize":11,"titlePadding":5}},
"color":{"field":"s","type":"nominal","scale":{"domain":["e","f","n"],"range":["#222222","#ff0000","#00ee00"]},
"legend":{"title":null,"orient":"none","legendX":197,"legendY":19,"labelExpr":"datum.label == 'e' ? 'ABL1kinase-4e' : datum.label == 'f' ? 'ABL1kinase-4f' : 'ABL1kinase-nilotinib'","labelFontSize":10.5,"symbolSize":225,"symbolStrokeWidth":1,"labelOffset":9,"padding":3.5,"rowPadding":0,"clipHeight":10.5,"strokeColor":"black","fillColor":"white"}}
}},
{"mark":{"type":"point","opacity":0},
"encoding":{
"x":{"field":"r","type":"quantitative","axis":{"orient":"top","offset":-6,"tickSize":6,"title":null,"labels":false,"values":[100,125,150,175,200,225,250,275,300,325,350,375,400,425,450,475,500,525,550]}},
"y":{"field":"v","type":"quantitative","axis":{"orient":"right","offset":-6,"tickSize":6,"title":null,"labels":false,"values":[0,0.05,0.1,0.15,0.2,0.25,0.3,0.35,0.4]}}
}}
],
"resolve":{"axis":{"x":"independent","y":"independent"}}
}
],"spacing":81,"bounds":"flush","resolve":{"scale":{"color":"independent"},"legend":{"color":"independent"}}},
{"hconcat":[
{"width":323,"height":378,
"data":{"name":"C"},
"title":{"text":"C","fontSize":20,"dx":-29,"offset":11},
"layer":[
{"mark":{"type":"line","strokeWidth":1.8,"interpolate":"step-after","clip":true},
"encoding":{
"x":{"field":"t","type":"quantitative","scale":{"domain":[0,5000],"nice":false,"zero":false},
"axis":{"orient":"bottom","offset":-7,"tickSize":7,"tickWidth":2,"title":"Time (ps)","values":[0,500,1000,1500,2000,2500,3000,3500,4000,4500,5000],"format":"d","labelExpr":"datum.value % 1000 === 0 ? datum.label : ''","labelPadding":3,"labelFontSize":15.5,"titleFontSize":15,"titlePadding":2}},
"y":{"field":"v","type":"quantitative","scale":{"domain":[0,3],"nice":false,"zero":false},
"axis":{"orient":"left","offset":-7,"tickSize":7,"tickWidth":2,"title":"Number of hydrogen bonds","values":[0,0.5,1,1.5,2,2.5,3],"format":"d","labelExpr":"datum.value % 1 === 0 ? datum.label : ''","labelPadding":4,"labelFontSize":15.5,"titleFontSize":15,"titlePadding":9}},
"color":{"field":"s","type":"nominal","scale":{"domain":["e","f","n"],"range":["#000000","#ff0000","#00ee00"]},
"legend":{"title":null,"orient":"none","legendX":145,"legendY":25,"labelExpr":"datum.label == 'e' ? 'ABL1kinase-4e' : datum.label == 'f' ? 'ABL1kinase-4f' : 'ABL1kinase-nilotinib'","labelFontSize":15,"symbolSize":144,"symbolStrokeWidth":2,"symbolOffset":2,"labelOffset":10,"padding":4,"rowPadding":0.5,"clipHeight":15,"strokeColor":"black","fillColor":"white"}}
}},
{"mark":{"type":"point","opacity":0},
"encoding":{
"x":{"field":"t","type":"quantitative","axis":{"orient":"top","offset":-7,"tickSize":7,"tickWidth":2,"title":null,"labels":false,"values":[0,500,1000,1500,2000,2500,3000,3500,4000,4500,5000]}},
"y":{"field":"v","type":"quantitative","axis":{"orient":"right","offset":-7,"tickSize":7,"tickWidth":2,"title":null,"labels":false,"values":[0,0.5,1,1.5,2,2.5,3]}}
}}
],
"resolve":{"axis":{"x":"independent","y":"independent"}}
},
{"width":308,"height":359,
"data":{"name":"D"},
"transform":[{"fold":["e","f","n"],"as":["s","v"]}],
"title":{"text":"D","fontSize":20,"dx":-67,"offset":11},
"layer":[
{"mark":{"type":"line","strokeWidth":2,"clip":true},
"encoding":{
"x":{"field":"t","type":"quantitative","scale":{"domain":[0,5000],"nice":false,"zero":false},
"axis":{"orient":"bottom","offset":-7,"tickSize":7,"tickWidth":2,"title":"Time (ps)","values":[0,500,1000,1500,2000,2500,3000,3500,4000,4500,5000],"format":"d","labelExpr":"datum.value % 1000 === 0 ? datum.label : ''","labelPadding":4,"labelFontSize":14,"titleFontSize":14.5,"titlePadding":2}},
"y":{"field":"v","type":"quantitative","scale":{"domain":[2.3,2.6],"nice":false,"zero":false},
"axis":{"orient":"left","offset":-7,"tickSize":7,"tickWidth":2,"title":"Radius of gyration (nm)","values":[2.3,2.325,2.35,2.375,2.4,2.425,2.45,2.475,2.5,2.525,2.55,2.575,2.6],"format":"~g","labelExpr":"abs(datum.value*20-round(datum.value*20))<1e-6 ? datum.label : ''","labelPadding":4,"labelFontSize":14,"titleFontSize":14.5,"titlePadding":8}},
"color":{"field":"s","type":"nominal","scale":{"domain":["e","f","n"],"range":["#000000","#ff0000","#00ee00"]},
"legend":{"title":null,"orient":"none","legendX":128,"legendY":17,"labelExpr":"datum.label == 'e' ? 'ABL1kinase-4e' : datum.label == 'f' ? 'ABL1kinase-4f' : 'ABL1kinase-nilotinib'","labelFontSize":14,"symbolSize":100,"symbolStrokeWidth":2,"symbolOffset":3,"labelOffset":10,"padding":4,"rowPadding":1.5,"clipHeight":14,"strokeColor":"black","fillColor":"white"}}
}},
{"mark":{"type":"point","opacity":0},
"encoding":{
"x":{"field":"t","type":"quantitative","axis":{"orient":"top","offset":-7,"tickSize":7,"tickWidth":2,"title":null,"labels":false,"values":[0,500,1000,1500,2000,2500,3000,3500,4000,4500,5000]}},
"y":{"field":"v","type":"quantitative","axis":{"orient":"right","offset":-7,"tickSize":7,"tickWidth":2,"title":null,"labels":false,"values":[2.3,2.325,2.35,2.375,2.4,2.425,2.45,2.475,2.5,2.525,2.55,2.575,2.6]}}
}}
],
"resolve":{"axis":{"x":"independent","y":"independent"}}
}
],"spacing":117,"bounds":"flush","resolve":{"scale":{"color":"independent"},"legend":{"color":"independent"}}}
]
}
